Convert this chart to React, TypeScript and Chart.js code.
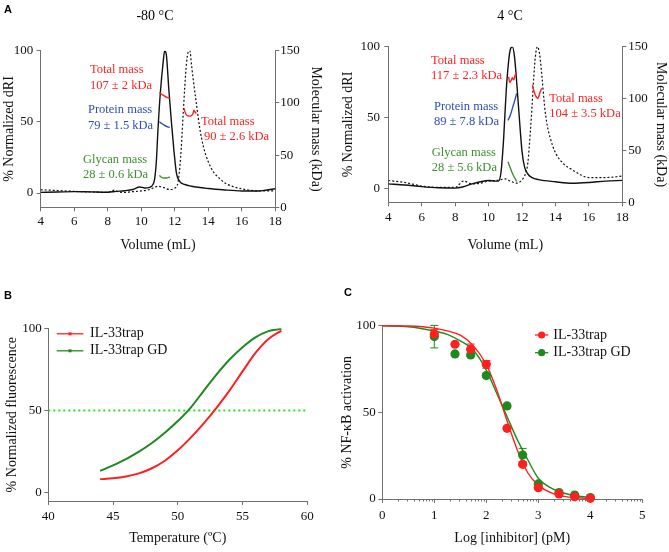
import React, { useEffect, useRef } from 'react';
import { Chart, registerables } from 'chart.js';

Chart.register(...registerables);

const SERIF = '"Liberation Serif", "Times New Roman", Times, serif';
const SANS = '"Liberation Sans", Arial, Helvetica, sans-serif';
const AXIS = '#707070';
const BLACK = '#111111';
const RED = '#ff1f1f';
const BLUE = '#2f4fb0';
const OLIVE = '#3f8f30';
const GREEN = '#1d8a1d';
const LIME = '#22e622';

// ---------------- Panel A : SEC-MALS ----------------
const volumeTicks = [4, 6, 8, 10, 12, 14, 16, 18];
const driTicks = [0, 50, 100];
const massTicks = [0, 50, 100, 150];

// -80 °C
const m80SolidVol = [4, 5, 6, 7, 8, 8.5, 9, 9.5, 9.9, 10.2, 10.5, 10.7, 10.8, 10.9, 11.0, 11.15, 11.3, 11.4, 11.5, 11.65, 11.8, 11.95, 12.1, 12.3, 12.6, 13, 14, 15, 16, 17, 17.5, 18];
const m80SolidDri = [0.5, 0.7, 1, 0.8, 0.6, 1.2, 1.6, 2.5, 4.3, 3.6, 4, 6, 10, 22, 45, 72, 91, 100, 97, 72, 50, 30, 14, 8, 6, 4.8, 3.2, 2.2, 1.5, 1.4, 2.2, 3];
const m80DotVol = [4, 5, 6, 7, 8, 8.4, 8.6, 9, 9.5, 10, 10.5, 11, 11.3, 11.7, 12.0, 12.2, 12.35, 12.5, 12.6, 12.7, 12.8, 12.9, 13.0, 13.1, 13.3, 13.5, 13.7, 14, 14.3, 14.7, 15, 15.5, 16, 16.5, 17, 18];
const m80DotDri = [2.3, 1.8, 1.2, 0.8, 0.5, 2, 1, 0.5, 1, 1.5, 2.5, 4.8, 4, 2.5, 3.5, 8, 25, 55, 75, 91, 99, 100, 90, 80, 62, 45, 33, 22, 15, 10, 7, 4.5, 3, 2, 1.5, 1.5];
const m80PeakVol = [11.08, 11.2, 11.35, 11.5, 11.7];
const m80TotalAMass = [110, 108.5, 107, 105.5, 104.5];
const m80ProteinMass = [82, 80.5, 79, 77.5, 76.5];
const m80GlycanMass = [30.5, 28.8, 28, 28, 29];
const m80TotalBVol = [12.55, 12.62, 12.7, 12.8, 12.9, 13.0, 13.08, 13.15, 13.22, 13.3];
const m80TotalBMass = [95, 91, 88.5, 87.5, 87.3, 88, 89.5, 93, 91, 90];

// 4 °C
const p4SolidVol = [4, 5, 6, 7, 8, 8.5, 9, 9.5, 10, 10.4, 10.6, 10.75, 10.9, 11.05, 11.2, 11.3, 11.42, 11.55, 11.7, 11.85, 12.0, 12.15, 12.35, 12.6, 13, 14, 15, 16, 17, 18];
const p4SolidDri = [3, 2.2, 1.1, 0.3, 0, 1, 3, 4.5, 5.4, 5, 5, 12, 35, 68, 90, 98, 100, 93, 72, 48, 26, 15, 10, 7.5, 6, 4.5, 3.5, 4, 5, 5.5];
const p4DotVol = [4, 5, 6, 7, 8, 8.5, 9, 9.5, 10, 10.5, 11, 11.3, 11.7, 12.0, 12.2, 12.35, 12.5, 12.6, 12.7, 12.8, 12.92, 13.05, 13.2, 13.35, 13.5, 13.7, 14, 14.5, 15, 15.5, 16, 17, 18];
const p4DotDri = [5.4, 4, 1.5, 0.5, 0.5, 5, 3, 3.5, 5, 5.5, 6.5, 5, 3.5, 6, 10, 18, 40, 58, 78, 93, 100, 95, 78, 58, 45, 35, 25, 17, 13, 9.5, 7.5, 7.5, 8.5];
const p4TotalAVol = [11.2, 11.27, 11.35, 11.42, 11.5, 11.58, 11.66];
const p4TotalAMass = [121, 115.5, 117.5, 120, 118, 122, 125];
const p4PeakVol = [11.16, 11.3, 11.45, 11.58, 11.68];
const p4ProteinMass = [79, 84, 92, 99, 105];
const p4GlycanMass = [39, 33, 27, 23, 20];
const p4TotalBVol = [12.62, 12.7, 12.78, 12.86, 12.95, 13.02, 13.1, 13.18];
const p4TotalBMass = [113, 108, 104, 101.5, 100, 103, 107, 110];

// ---------------- Panel B : thermal melt ----------------
const tempTicks = [40, 45, 50, 55, 60];
const fluoTicks = [0, 50, 100];
const meltTemp = [44, 45, 46, 47, 48, 49, 50, 51, 52, 53, 54, 55, 56, 57, 58];
const meltTrap = [8.3, 8.8, 9.9, 11.8, 14.9, 19.5, 25.8, 33.5, 42.2, 51.8, 62.3, 73.8, 85, 93.5, 98.6];
const meltTrapGD = [13.3, 16.7, 20.5, 25, 30.3, 36.5, 43.6, 51.8, 62, 72, 81, 88.5, 94.5, 98.3, 99.7];
const halfTemp = [40, 60];
const halfLevel = [50, 50];

// ---------------- Panel C : NF-kB inhibition ----------------
const doseTicks = [0, 1, 2, 3, 4, 5];
const nfkbTicks = [0, 50, 100];
const logDose = [1, 1.398, 1.699, 2, 2.398, 2.699, 3, 3.398, 3.699, 4];
const nfkbTrap = [95.2, 89.3, 86.4, 77.7, 40.8, 20, 6.5, 2.9, 1.3, 0.4];
const nfkbTrapErr = [2.5, 0.8, 3, 2.2, 0.8, 1, 0.6, 0.5, 0.5, 0.3];
const nfkbTrapGD = [93.7, 83.7, 83.1, 71.2, 53.7, 25.4, 8.7, 3.7, 2.3, 0.8];
const nfkbTrapGDErr = [6.5, 0.8, 1, 1, 1, 3.8, 1, 0.5, 0.5, 0.3];
const fitDose = [0, 0.5, 1, 1.25, 1.5, 1.75, 2, 2.2, 2.4, 2.6, 2.8, 3, 3.25, 3.5, 3.75, 4];
const fitTrap = [100, 99.8, 98.6, 97, 94.5, 88.5, 77.5, 63, 45, 28, 15, 8, 3.5, 1.5, 0.7, 0.3];
const fitTrapGD = [99.9, 99.4, 96.9, 95, 91.2, 86, 74.4, 61, 47.5, 34, 22.5, 12, 6.3, 3.3, 1.7, 1];

// ---------------- helpers ----------------
const pts = (xs: number[], ys: number[]) => xs.map((x, i) => ({ x, y: ys[i] }));

function line(xs: number[], ys: number[], color: string, width: number, dash: number[] = [], yAxisID = 'y') {
  return {
    type: 'line',
    data: pts(xs, ys),
    borderColor: color,
    backgroundColor: color,
    borderWidth: width,
    borderDash: dash,
    pointRadius: 0,
    fill: false,
    cubicInterpolationMode: 'monotone',
    yAxisID,
  };
}

function axis(o: any) {
  return {
    type: 'linear',
    position: o.position,
    min: o.min,
    max: o.max,
    afterBuildTicks: (s: any) => {
      s.ticks = o.ticks.map((v: number) => ({ value: v }));
    },
    afterFit: (s: any) => {
      if (o.horizontal) s.height = o.fit;
      else s.width = o.fit;
    },
    grid: { display: true, drawOnChartArea: false, drawTicks: true, tickLength: 4, color: AXIS, lineWidth: 1 },
    border: { display: true, color: AXIS, width: 1 },
    ticks: {
      font: { family: SERIF, size: 13 },
      color: BLACK,
      padding: o.pad,
      maxRotation: 0,
      autoSkip: false,
      callback: (v: any) => String(v),
    },
    title: {
      display: true,
      text: o.title,
      font: { family: SERIF, size: 14 },
      color: BLACK,
      padding: { top: o.titlePad, bottom: o.titlePad },
    },
  };
}

function textPlugin(items: any[]) {
  return {
    id: 'annotText',
    afterDatasetsDraw(chart: any) {
      const ctx = chart.ctx;
      const sx = chart.scales.x;
      const sy = chart.scales.y;
      ctx.save();
      ctx.font = `12.5px ${SERIF}`;
      ctx.textAlign = 'left';
      ctx.textBaseline = 'middle';
      items.forEach((it) => {
        ctx.fillStyle = it.c;
        ctx.fillText(it.t, sx.getPixelForValue(it.x), sy.getPixelForValue(it.y));
      });
      ctx.restore();
    },
  };
}

function legendPlugin(items: any[], geo: any) {
  return {
    id: 'customLegend',
    afterDraw(chart: any) {
      const ctx = chart.ctx;
      const a = chart.chartArea;
      ctx.save();
      items.forEach((it, i) => {
        const y = a.top + geo.y0 + i * geo.dy;
        ctx.strokeStyle = it.color;
        ctx.lineWidth = 1.3;
        ctx.beginPath();
        ctx.moveTo(a.left + geo.x0, y);
        ctx.lineTo(a.left + geo.x1, y);
        ctx.stroke();
        ctx.fillStyle = it.color;
        const mx = a.left + (geo.x0 + geo.x1) / 2;
        if (geo.marker === 'circle') {
          ctx.beginPath();
          ctx.arc(mx, y, 3.6, 0, Math.PI * 2);
          ctx.fill();
        } else {
          ctx.fillRect(mx - 1.5, y - 1.5, 3, 3);
        }
        ctx.fillStyle = BLACK;
        ctx.font = `14px ${SERIF}`;
        ctx.textAlign = 'left';
        ctx.textBaseline = 'middle';
        ctx.fillText(it.label, a.left + geo.tx, y);
      });
      ctx.restore();
    },
  };
}

const baseOptions = (padding: any, scales: any) => ({
  responsive: false,
  animation: false,
  events: [],
  layout: { padding },
  plugins: { legend: { display: false }, tooltip: { enabled: false }, title: { display: false } },
  scales,
});

function secConfig(g: any, d: any) {
  return {
    type: 'line',
    data: {
      datasets: [
        line(d.totalAVol, d.totalAMass, RED, 1.4, [], 'y2'),
        line(d.proteinVol, d.proteinMass, BLUE, 1.4, [], 'y2'),
        line(d.glycanVol, d.glycanMass, OLIVE, 1.4, [], 'y2'),
        line(d.totalBVol, d.totalBMass, RED, 1.4, [], 'y2'),
        line(d.solidVol, d.solidDri, BLACK, 1.4),
        line(d.dotVol, d.dotDri, BLACK, 1.2, [2, 2]),
      ],
    },
    options: baseOptions(
      { left: 0, right: 0, top: g.T, bottom: g.H - g.B - g.xH },
      {
        x: axis({ position: 'bottom', horizontal: true, min: 4, max: 18, ticks: volumeTicks, fit: g.xH, pad: g.xPad, title: 'Volume (mL)', titlePad: 0 }),
        y: axis({ position: 'left', min: -10, max: 100, ticks: driTicks, fit: g.L, pad: g.yPad, title: '% Normalized dRI', titlePad: g.yTitlePad }),
        y2: axis({ position: 'right', min: 0, max: 150, ticks: massTicks, fit: g.W - g.R, pad: g.y2Pad, title: 'Molecular mass (kDa)', titlePad: g.y2TitlePad }),
      }
    ),
    plugins: [textPlugin(d.texts)],
  };
}

function ChartBox({ left, top, width, height, build }: any) {
  const ref = useRef<HTMLCanvasElement>(null);
  useEffect(() => {
    const chart = new Chart(ref.current as HTMLCanvasElement, build());
    return () => chart.destroy();
  }, []);
  return (
    <div style={{ position: 'absolute', left, top, width, height }}>
      <canvas ref={ref} width={width} height={height} style={{ width, height, display: 'block' }} />
    </div>
  );
}

// ---------------- charts ----------------
const buildM80 = () =>
  secConfig(
    { W: 335, H: 270, L: 40.7, R: 275.3, T: 50.7, B: 207.3, xH: 46.1, xPad: 2, yPad: 3.5, y2Pad: 1, yTitlePad: 0.6, y2TitlePad: 11 },
    {
      solidVol: m80SolidVol, solidDri: m80SolidDri, dotVol: m80DotVol, dotDri: m80DotDri,
      totalAVol: m80PeakVol, totalAMass: m80TotalAMass,
      proteinVol: m80PeakVol, proteinMass: m80ProteinMass,
      glycanVol: m80PeakVol, glycanMass: m80GlycanMass,
      totalBVol: m80TotalBVol, totalBMass: m80TotalBMass,
      texts: [
        { t: 'Total mass', x: 6.94, y: 86.5, c: RED },
        { t: '107 ± 2 kDa', x: 6.94, y: 75.2, c: RED },
        { t: 'Protein mass', x: 6.82, y: 58.4, c: BLUE },
        { t: '79 ± 1.5 kDa', x: 6.82, y: 47.2, c: BLUE },
        { t: 'Glycan mass', x: 6.52, y: 23.4, c: OLIVE },
        { t: '28 ± 0.6 kDa', x: 6.52, y: 12.8, c: OLIVE },
        { t: 'Total mass', x: 13.56, y: 50, c: RED },
        { t: '90 ± 2.6 kDa', x: 13.74, y: 39.5, c: RED },
      ],
    }
  );

const buildP4 = () =>
  secConfig(
    { W: 334, H: 270, L: 53.3, R: 287.3, T: 46.7, B: 202.3, xH: 51.1, xPad: 3, yPad: 4.3, y2Pad: 2, yTitlePad: 4.6, y2TitlePad: 0 },
    {
      solidVol: p4SolidVol, solidDri: p4SolidDri, dotVol: p4DotVol, dotDri: p4DotDri,
      totalAVol: p4TotalAVol, totalAMass: p4TotalAMass,
      proteinVol: p4PeakVol, proteinMass: p4ProteinMass,
      glycanVol: p4PeakVol, glycanMass: p4GlycanMass,
      totalBVol: p4TotalBVol, totalBMass: p4TotalBMass,
      texts: [
        { t: 'Total mass', x: 6.56, y: 89.9, c: RED },
        { t: '117 ± 2.3 kDa', x: 6.56, y: 79.3, c: RED },
        { t: 'Protein mass', x: 6.73, y: 57.6, c: BLUE },
        { t: '89 ± 7.8 kDa', x: 6.73, y: 47, c: BLUE },
        { t: 'Glycan mass', x: 6.6, y: 24.7, c: OLIVE },
        { t: '28 ± 5.6 kDa', x: 6.6, y: 14.1, c: OLIVE },
        { t: 'Total mass', x: 13.63, y: 63, c: RED },
        { t: '104 ± 3.5 kDa', x: 13.63, y: 52.5, c: RED },
      ],
    }
  );

const buildMelt = () => {
  const g = { W: 335, H: 272, L: 48.3, R: 307.3, T: 48.3, B: 221, xH: 45.7 };
  return {
    type: 'line',
    data: {
      datasets: [
        line(meltTemp, meltTrap, RED, 2),
        line(meltTemp, meltTrapGD, GREEN, 2),
        line(halfTemp, halfLevel, LIME, 2, [2, 3]),
      ],
    },
    options: baseOptions(
      { left: 0, right: g.W - g.R, top: g.T, bottom: g.H - g.B - g.xH },
      {
        x: axis({ position: 'bottom', horizontal: true, min: 40, max: 60, ticks: tempTicks, fit: g.xH, pad: 4, title: 'Temperature (ºC)', titlePad: 0 }),
        y: axis({ position: 'left', min: -5, max: 100, ticks: fluoTicks, fit: g.L, pad: 2.6, title: '% Normalized fluorescence', titlePad: 4.1 }),
      }
    ),
    plugins: [
      legendPlugin(
        [
          { label: 'IL-33trap', color: RED },
          { label: 'IL-33trap GD', color: GREEN },
        ],
        { x0: 8.4, x1: 35, tx: 41.7, y0: 5.5, dy: 17, marker: 'square' }
      ),
    ],
  };
};

const buildDose = () => {
  const g = { W: 334, H: 272, L: 47.3, R: 307.3, T: 45.7, B: 219, xH: 47.4 };
  const series = [
    { m: nfkbTrap, e: nfkbTrapErr, c: RED },
    { m: nfkbTrapGD, e: nfkbTrapGDErr, c: GREEN },
  ];
  const points = (ys: number[], color: string) => ({
    type: 'line',
    data: pts(logDose, ys),
    showLine: false,
    pointRadius: 4.6,
    pointBackgroundColor: color,
    pointBorderColor: color,
    pointBorderWidth: 0,
    clip: false,
  });
  return {
    type: 'line',
    data: {
      datasets: [
        points(nfkbTrap, RED),
        points(nfkbTrapGD, GREEN),
        { ...line(fitDose, fitTrap, RED, 1.4), clip: false },
        { ...line(fitDose, fitTrapGD, GREEN, 1.4), clip: false },
      ],
    },
    options: baseOptions(
      { left: 0, right: g.W - g.R, top: g.T, bottom: g.H - g.B - g.xH },
      {
        x: axis({ position: 'bottom', horizontal: true, min: 0, max: 5, ticks: doseTicks, fit: g.xH, pad: 5, title: 'Log [inhibitor] (pM)', titlePad: 0 }),
        y: axis({ position: 'left', min: 0, max: 100, ticks: nfkbTicks, fit: g.L, pad: 2.6, title: '% NF-κB activation', titlePad: 4.3 }),
      }
    ),
    plugins: [
      {
        id: 'errorBars',
        beforeDatasetsDraw(chart: any) {
          const ctx = chart.ctx;
          const sx = chart.scales.x;
          const sy = chart.scales.y;
          ctx.save();
          ctx.lineWidth = 1;
          series.forEach((s) => {
            ctx.strokeStyle = s.c;
            logDose.forEach((d, i) => {
              const x = sx.getPixelForValue(d);
              const y1 = sy.getPixelForValue(s.m[i] + s.e[i]);
              const y2 = sy.getPixelForValue(s.m[i] - s.e[i]);
              ctx.beginPath();
              ctx.moveTo(x, y1);
              ctx.lineTo(x, y2);
              ctx.moveTo(x - 4, y1);
              ctx.lineTo(x + 4, y1);
              ctx.moveTo(x - 4, y2);
              ctx.lineTo(x + 4, y2);
              ctx.stroke();
            });
          });
          ctx.restore();
        },
      },
      {
        id: 'minorTicks',
        afterDraw(chart: any) {
          const ctx = chart.ctx;
          const sx = chart.scales.x;
          const yb = chart.chartArea.bottom;
          ctx.save();
          ctx.strokeStyle = AXIS;
          ctx.lineWidth = 1;
          ctx.beginPath();
          doseTicks.slice(0, -1).forEach((d) => {
            for (let k = 2; k <= 9; k++) {
              const x = Math.round(sx.getPixelForValue(d + Math.log10(k))) + 0.5;
              ctx.moveTo(x, yb);
              ctx.lineTo(x, yb + 2.5);
            }
          });
          ctx.stroke();
          ctx.restore();
        },
      },
      legendPlugin(
        [
          { label: 'IL-33trap', color: RED },
          { label: 'IL-33trap GD', color: GREEN },
        ],
        { x0: 152.7, x1: 166, tx: 171, y0: 9.3, dy: 17.7, marker: 'circle' }
      ),
    ],
  };
};

export default function App() {
  const letter = { position: 'absolute' as const, fontFamily: SANS, fontWeight: 700, fontSize: 11, lineHeight: '12px', color: '#000' };
  const title = { position: 'absolute' as const, fontFamily: SERIF, fontSize: 14, lineHeight: '16px', color: '#000', textAlign: 'center' as const, width: 100 };
  return (
    <div style={{ position: 'fixed', left: 0, top: 0, width: 669, height: 552, background: '#fff', overflow: 'hidden' }}>
      <ChartBox left={0} top={0} width={335} height={270} build={buildM80} />
      <ChartBox left={335} top={0} width={334} height={270} build={buildP4} />
      <ChartBox left={0} top={280} width={335} height={272} build={buildMelt} />
      <ChartBox left={335} top={280} width={334} height={272} build={buildDose} />
      <div style={{ ...letter, left: 4, top: 3 }}>A</div>
      <div style={{ ...letter, left: 4, top: 289 }}>B</div>
      <div style={{ ...letter, left: 344, top: 286 }}>C</div>
      <div style={{ ...title, left: 105, top: 8 }}>-80 °C</div>
      <div style={{ ...title, left: 460, top: 8 }}>4 °C</div>
    </div>
  );
}
